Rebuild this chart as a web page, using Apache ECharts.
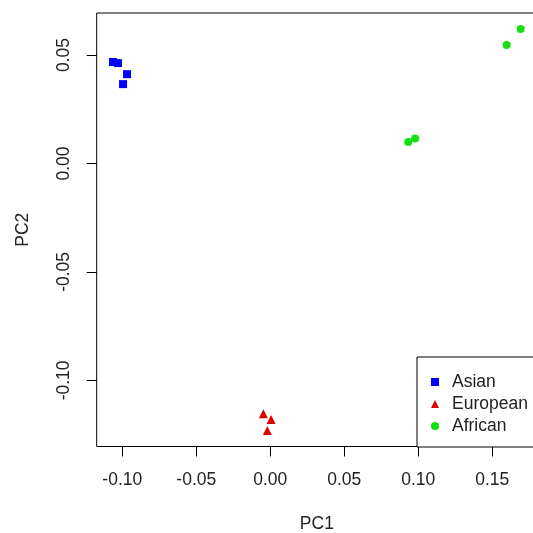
<!DOCTYPE html>
<html>
<head>
<meta charset="utf-8">
<script src="https://cdn.jsdelivr.net/npm/echarts@6/dist/echarts.min.js"></script>
<style>html,body{margin:0;padding:0;background:#fff}#c{width:533px;height:533px}</style>
</head>
<body>
<div id="c"></div>
<script>
// Data (PC1, PC2)
const asian = [[-0.1063, 0.0468], [-0.1029, 0.0463], [-0.0968, 0.0412], [-0.0995, 0.0366]];
const european = [[-0.0047, -0.1154], [0.0005, -0.1180], [-0.0020, -0.1231]];
const african = [[0.1692, 0.0620], [0.1597, 0.0546], [0.0978, 0.0115], [0.0932, 0.0099]];
const xTicks = [-0.10, -0.05, 0.00, 0.05, 0.10, 0.15];
const yTicks = [-0.10, -0.05, 0.00, 0.05];
const seriesNames = ['Asian', 'European', 'African'];

const FONT = 'Liberation Sans, Arial, sans-serif';
const TXT = '#222';
const chart = echarts.init(document.getElementById('c'), null, {renderer: 'canvas'});
chart.setOption({
  animation: false,
  backgroundColor: '#fff',
  grid: {left: 96.7, top: 13, width: 440.3, height: 433.5, show: true, borderColor: '#000', borderWidth: 1,
    backgroundColor: 'transparent', containLabel: false, outerBoundsMode: 'none'},
  xAxis: {
    type: 'value', min: -0.1173, max: 0.1802,
    name: 'PC1', nameLocation: 'middle', nameGap: 69,
    nameTextStyle: {fontFamily: FONT, fontSize: 17.5, color: TXT},
    axisLine: {show: false, onZero: false},
    splitLine: {show: false},
    axisTick: {show: true, length: 10, lineStyle: {color: '#000', width: 1}, customValues: xTicks},
    axisLabel: {margin: 25, fontFamily: FONT, fontSize: 17.5, color: TXT, customValues: xTicks,
      formatter: v => v.toFixed(2)}
  },
  yAxis: {
    type: 'value', min: -0.1305, max: 0.0694,
    name: 'PC2', nameLocation: 'middle', nameGap: 65,
    nameTextStyle: {fontFamily: FONT, fontSize: 17.5, color: TXT},
    axisLine: {show: false, onZero: false},
    splitLine: {show: false},
    axisTick: {show: true, length: 10, lineStyle: {color: '#000', width: 1}, customValues: yTicks},
    axisLabel: {margin: 24, rotate: 90, fontFamily: FONT, fontSize: 17.5, color: TXT, customValues: yTicks,
      formatter: v => v.toFixed(2)}
  },
  legend: {
    orient: 'vertical', left: 417, top: 357,
    padding: [16, 20, 12, 14],
    itemGap: 4, itemWidth: 8, itemHeight: 8,
    backgroundColor: '#fff', borderColor: '#000', borderWidth: 1, borderRadius: 0,
    textStyle: {fontFamily: FONT, fontSize: 17.5, color: TXT, lineHeight: 18, padding: [0, 0, 0, 8]},
    data: seriesNames
  },
  series: [
    {name: seriesNames[0], type: 'scatter', symbol: 'rect', symbolSize: 8, data: asian, itemStyle: {color: '#0000ff', opacity: 1}},
    {name: seriesNames[1], type: 'scatter', symbol: 'triangle', symbolSize: 9, data: european, itemStyle: {color: '#dd0000', opacity: 1}},
    {name: seriesNames[2], type: 'scatter', symbol: 'circle', symbolSize: 8, data: african, itemStyle: {color: '#11e011', opacity: 1}}
  ]
});
</script>
</body>
</html>
